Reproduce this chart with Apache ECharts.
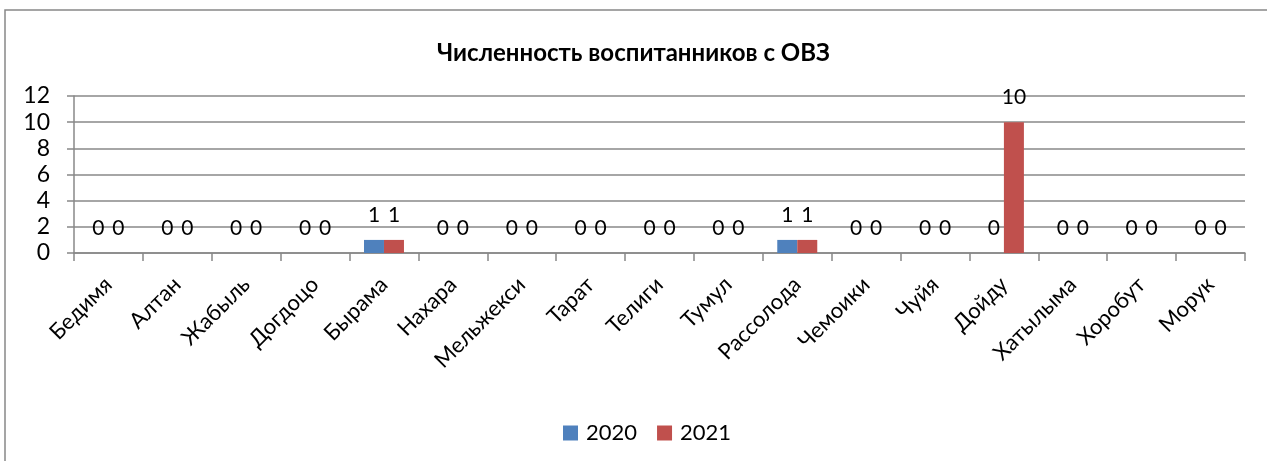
<!DOCTYPE html>
<html><head><meta charset="utf-8">
<script src="https://cdn.jsdelivr.net/npm/echarts@6/dist/echarts.min.js"></script>
<style>html,body{margin:0;padding:0;background:#fff}#c{width:1267px;height:461px}</style>
</head><body><div id="c"></div>
<script>
const categories = ['Бедимя','Алтан','Жабыль','Догдоцо','Бырама','Нахара','Мельжекси','Тарат','Телиги','Тумул','Рассолода','Чемоики','Чуйя','Дойду','Хатылыма','Хоробут','Морук'];
const values2020 = [0,0,0,0,1,0,0,0,0,0,1,0,0,0,0,0,0];
const values2021 = [0,0,0,0,1,0,0,0,0,0,1,0,0,10,0,0,0];
const seriesNames = ['2020','2021'];
const yTicks = [0,2,4,6,8,10,12];

const FONT = 'Lato, "Open Sans", sans-serif';
const chart = echarts.init(document.getElementById('c'));
const lbl = {show:true, position:'top', distance:14, fontSize:21, color:'#000', fontFamily:FONT};
chart.setOption({
  animation:false,
  graphic:[{type:'rect', shape:{x:5,y:10,width:1400,height:600}, style:{fill:'none', stroke:'#888', lineWidth:1.5}, z:-1}],
  title:{text:'Численность воспитанников с ОВЗ', left:'center', top:36, textStyle:{fontSize:24, fontWeight:'bold', color:'#000', fontFamily:FONT}},
  legend:{data:seriesNames, top:417, left:558, itemWidth:15, itemHeight:15, itemGap:20, icon:'rect', textStyle:{fontSize:22, color:'#000', fontFamily:FONT, padding:[0,0,0,3]}},
  grid:{left:74, right:22, top:96, bottom:208, containLabel:false},
  xAxis:{type:'category', data:categories,
    axisLine:{lineStyle:{color:'#888', width:1.5}},
    axisTick:{show:true, alignWithLabel:false, length:8, lineStyle:{color:'#888', width:1.5}},
    axisLabel:{rotate:45, interval:0, margin:28, fontSize:22, color:'#000', fontFamily:FONT}},
  yAxis:{type:'value', min:0, max:12, interval:2,
    axisLine:{show:true, lineStyle:{color:'#888', width:1.5}},
    axisTick:{show:true, length:7, lineStyle:{color:'#888', width:1.5}},
    splitLine:{lineStyle:{color:'#888', width:1.5}},
    axisLabel:{fontSize:23, color:'#000', margin:24, fontFamily:FONT, formatter:v=>yTicks.includes(v)?String(v):''}},
  series:[
    {name:seriesNames[0], type:'bar', data:values2020, barWidth:20, barGap:'0%', itemStyle:{color:'#4F81BD'}, label:lbl},
    {name:seriesNames[1], type:'bar', data:values2021, barWidth:20, barGap:'0%', itemStyle:{color:'#C0504D'}, label:lbl}
  ]
});
</script></body></html>
